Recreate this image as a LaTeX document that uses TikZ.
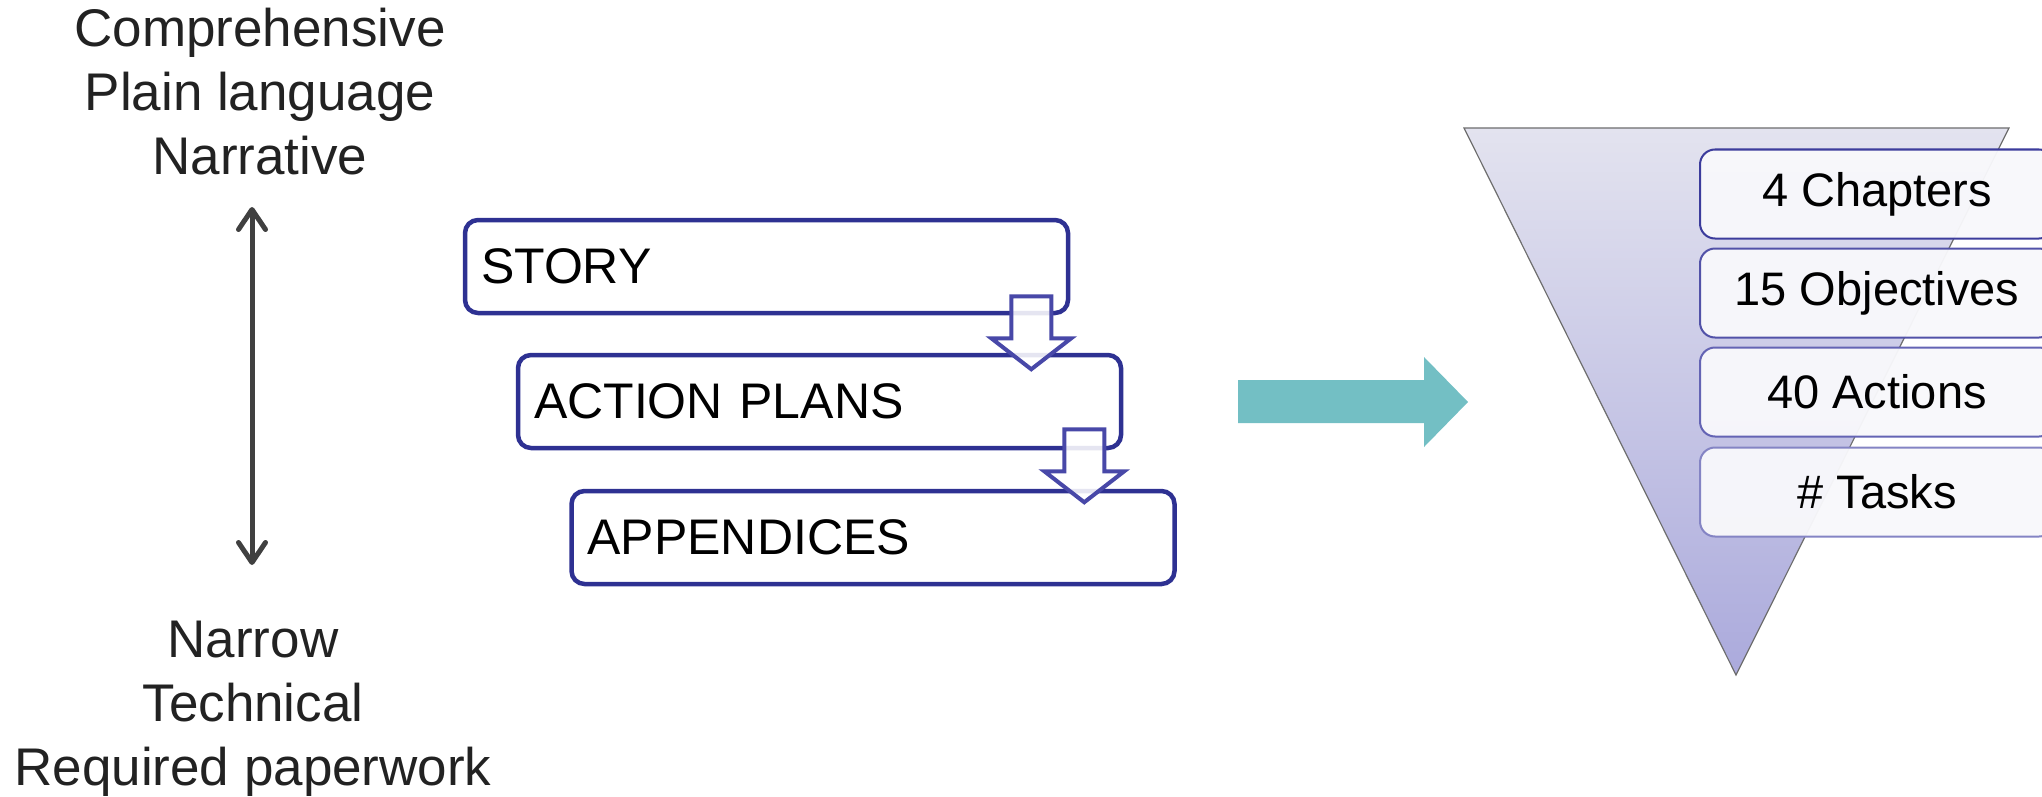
\documentclass[tikz,border=0pt]{standalone}
\usepackage{fontspec}
\setmainfont{Liberation Sans}
\usetikzlibrary{arrows.meta}
\definecolor{stageblue}{RGB}{46,49,146}
\definecolor{dropblue}{RGB}{72,72,168}
\definecolor{tealflow}{RGB}{115,191,196}
\definecolor{funneltop}{RGB}{227,227,239}
\definecolor{funnelbottom}{RGB}{171,170,220}
\definecolor{funneledge}{RGB}{110,110,110}
\definecolor{tierfill}{RGB}{248,248,251}
\definecolor{tierone}{RGB}{60,60,156}
\definecolor{tiertwo}{RGB}{82,82,168}
\definecolor{tierthree}{RGB}{100,100,180}
\definecolor{tierfour}{RGB}{132,132,196}
\definecolor{textgray}{RGB}{34,34,34}
\definecolor{arrowgray}{RGB}{64,64,64}
\tikzset{
  scaletext/.style={font=\fontsize{53}{64}\selectfont, text=textgray, align=center, inner sep=0pt},
  stagebox/.style={draw=stageblue, line width=4.5pt, rounded corners=13pt, fill=white,
    minimum width=603pt, minimum height=93pt, text width=571pt, inner xsep=16pt,
    align=left, font=\fontsize{50}{60}\selectfont},
  tierbox/.style={draw=#1, line width=2pt, rounded corners=15pt, fill=tierfill,
    fill opacity=0.96, text opacity=1, minimum width=354pt, minimum height=89pt,
    font=\fontsize{47}{56}\selectfont},
  hollowarrow/.style={draw=dropblue, line width=4pt, fill=white, fill opacity=0.88},
  droparrow/.pic={\draw[hollowarrow] (-20,0) -- (20,0) -- (20,42) -- (40,42) -- (0,73) -- (-40,42) -- (-20,42) -- cycle;}
}
\begin{document}
\begin{tikzpicture}[x=1pt,y=-1pt]
  \useasboundingbox (0,0) rectangle (2042,797);
  % range of the document
  \node[scaletext, anchor=north] (broad) at (260,7.4) {Comprehensive\\Plain language\\Narrative};
  \node[scaletext, anchor=north] (narrow) at (253,621) {Narrow\\Technical\\Required paperwork};
  \coordinate (uptip) at (252,207);
  \coordinate (downtip) at (252,565);
  \draw[arrowgray, line width=5pt, {Straight Barb[length=20pt,width=27pt,round]}-{Straight Barb[length=20pt,width=27pt,round]}] (uptip) -- (downtip);
  % the three parts
  \node[stagebox] (story) at (766.5,266.5) {STORY};
  \node[stagebox] (plans) at (819.5,401.5) {ACTION PLANS};
  \node[stagebox] (appendices) at (873,537.5) {APPENDICES};
  \pic at ([shift={(-39,-19)}]story.south east) {droparrow};
  \pic at ([shift={(-39,-21)}]plans.south east) {droparrow};
  % flow to the funnel
  \fill[tealflow] (1238,380) -- (1424,380) -- (1424,357) -- (1468,402) -- (1424,447) -- (1424,423) -- (1238,423) -- cycle;
  \shadedraw[top color=funneltop, bottom color=funnelbottom, draw=funneledge, line width=1.2pt] (1464,128) -- (2009,128) -- (1736,675) -- cycle;
  \node[tierbox=tierone] (chapters) at (1877,194) {4 Chapters};
  \node[tierbox=tiertwo] (objectives) at (1877,293) {15 Objectives};
  \node[tierbox=tierthree] (actions) at (1877,392) {40 Actions};
  \node[tierbox=tierfour] (tasks) at (1877,492) {\# Tasks};
\end{tikzpicture}
\end{document}
